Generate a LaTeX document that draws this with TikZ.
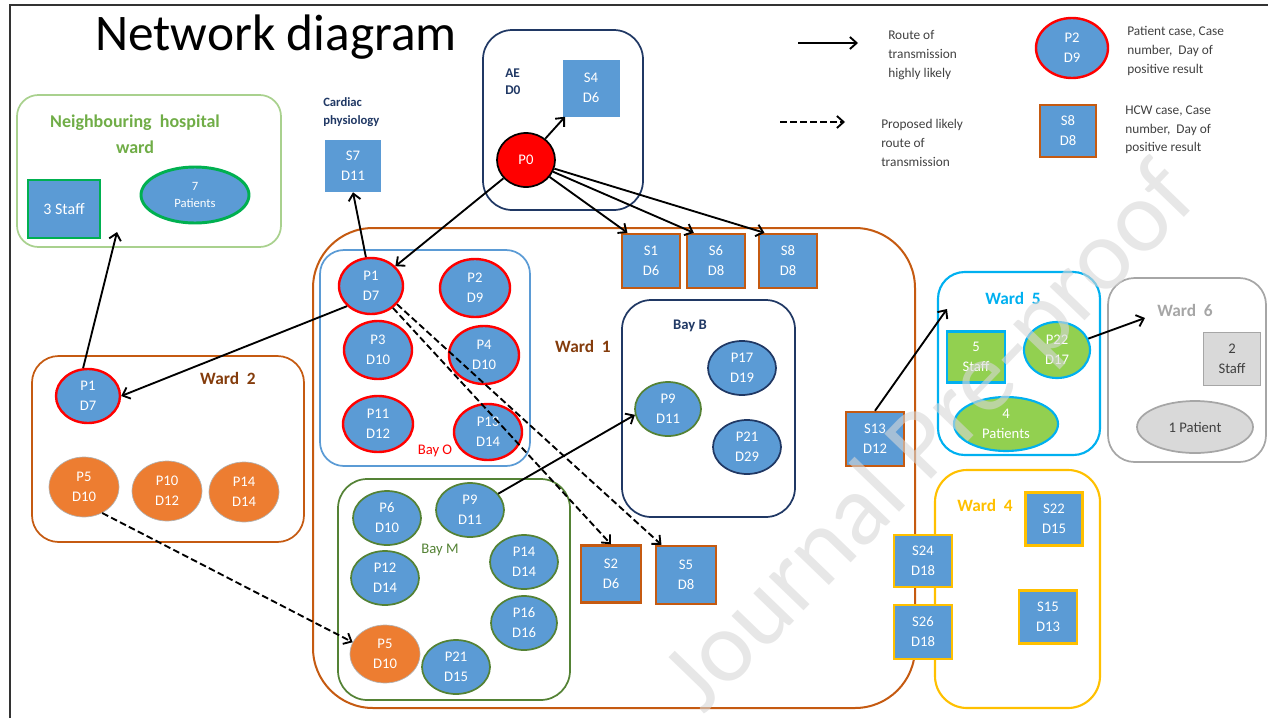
\documentclass[tikz,border=0pt]{standalone}
\usepackage{fontspec}
\setmainfont{Carlito}
\usetikzlibrary{shapes.geometric,arrows.meta}
\definecolor{pblue}{HTML}{5B9BD5}
\definecolor{porange}{HTML}{ED7D31}
\definecolor{sorange}{HTML}{C55A11}
\definecolor{wardbrown}{HTML}{843C0C}
\definecolor{navy}{HTML}{203864}
\definecolor{mgreen}{HTML}{548235}
\definecolor{lgreen}{HTML}{A9D18E}
\definecolor{dgreen}{HTML}{00B050}
\definecolor{nbgreen}{HTML}{70AD47}
\definecolor{lime}{HTML}{92D050}
\definecolor{cyanw}{HTML}{00B0F0}
\definecolor{gold}{HTML}{FFC000}
\definecolor{greyw}{HTML}{A6A6A6}
\definecolor{lgrey}{HTML}{D9D9D9}
\definecolor{legtext}{HTML}{404040}
\definecolor{wmark}{RGB}{215,215,215}
\tikzset{
  esz/.style 2 args={minimum width=#1*0.75pt, minimum height=#2*0.75pt},
  ntext/.style={font=\fontsize{11}{15}\selectfont, text=white, align=center, inner sep=0pt},
  pat/.style={ntext, ellipse, fill=pblue},
  patR/.style={pat, draw=red, line width=1.8pt},
  patG/.style={pat, draw=mgreen, line width=1.3pt},
  patN/.style={pat, draw=navy, line width=1.3pt},
  patO/.style={ntext, ellipse, fill=porange, draw=gray!60, line width=0.5pt},
  sbox/.style={ntext, rectangle, fill=pblue},
  staff/.style={sbox, draw=sorange, line width=1.8pt},
  staffY/.style={sbox, draw=gold, line width=1.8pt},
  legtxt/.style={anchor=west, align=left, text=legtext, font=\fontsize{10}{14}\selectfont, inner sep=0pt},
  wlabel/.style={font=\bfseries\fontsize{13}{15}\selectfont, inner sep=0pt},
  baylabel/.style={font=\fontsize{11}{13}\selectfont, inner sep=0pt},
  arr/.style={-{Straight Barb[length=5pt,width=9pt]}, line width=1.4pt},
  darr/.style={arr, dash pattern=on 5pt off 2.5pt},
}
\begin{document}
\begin{tikzpicture}[x=0.75pt,y=-0.75pt]
\useasboundingbox (0,0) rectangle (1268,718);
% page frame
\draw[line width=1.8pt, black!80] (10,718) -- (10,5) -- (1268,5);

% title
\node[font=\fontsize{38.5}{40}\selectfont, inner sep=0pt] (title) at (276,37) {Network diagram};

% legend
\coordinate (la1) at (798,43); \coordinate (la2) at (858,43);
\draw[arr] (la1) -- (la2);
\node[legtxt] (lt1) at (888,55) {Route of\\transmission\\highly likely};
\coordinate (lb1) at (780,122); \coordinate (lb2) at (845,122);
\draw[darr] (lb1) -- (lb2);
\node[legtxt] (lt2) at (881,143) {Proposed likely\\route of\\transmission};
\node[patR, esz={72}{60}] (lp) at (1072,48) {P2\\D9};
\node[legtxt] (lt3) at (1127,51) {Patient case, Case\\number,\ \ Day of\\positive result};
\node[staff, esz={56}{52}] (ls) at (1068,131) {S8\\D8};
\node[legtxt] (lt4) at (1125,130) {HCW case, Case\\number,\ \ Day of\\positive result};

% neighbouring hospital ward
\draw[lgreen, line width=1.3pt, rounded corners=16pt] (17,95) rectangle (281,247);
\node[font=\bfseries\fontsize{13.5}{19.5}\selectfont, text=nbgreen, align=center, inner sep=0pt] (nbt) at (135,134) {Neighbouring\ \ hospital\\ward};
\node[sbox, draw=dgreen, line width=2.2pt, esz={72}{58}, font=\fontsize{12}{14}\selectfont] (nb3) at (64,209) {3 Staff};
\node[pat, draw=dgreen, line width=2.2pt, esz={108}{56}, font=\fontsize{9.5}{13}\selectfont] (nb7) at (195,195) {7\\Patients};
\coordinate (nbin) at (117,232);

% cardiac physiology
\node[font=\bfseries\fontsize{9.5}{14}\selectfont, text=navy, align=left, anchor=west, inner sep=0pt] (card) at (323,112) {Cardiac\\physiology};
\node[sbox, esz={56}{52}] (S7) at (353,166) {S7\\D11};

% AE
\draw[navy, line width=1.3pt, rounded corners=22pt] (483,30) rectangle (643,210);
\node[font=\bfseries\fontsize{10}{13}\selectfont, text=navy, align=left, anchor=west, inner sep=0pt] (ae) at (505,82) {AE\\D0};
\node[sbox, esz={57}{57}] (S4) at (591,88) {S4\\D6};
\node[ntext, ellipse, fill=red, draw=black, line width=1.3pt, esz={58}{54}] (P0) at (526,160) {P0};

% ward 1
\draw[sorange, line width=1.5pt, rounded corners=45pt] (313,228) rectangle (915,708);
\node[wlabel, text=wardbrown] (w1) at (583,346) {Ward\ \ 1};
\node[staff, esz={58}{54}] (S1) at (651,261) {S1\\D6};
\node[staff, esz={58}{54}] (S6) at (716,261) {S6\\D8};
\node[staff, esz={58}{54}] (S8) at (788,261) {S8\\D8};
\node[staff, esz={58}{54}] (S13) at (875,439) {S13\\D12};

% bay O
\draw[pblue, line width=1.3pt, rounded corners=18pt] (320,250) rectangle (530,466);
\node[baylabel, text=red] (bo) at (435,451) {Bay O};
\node[patR, esz={64}{56}] (P1) at (371,286) {P1\\D7};
\node[patR, esz={70}{58}] (P2) at (475,288) {P2\\D9};
\node[patR, esz={68}{58}] (P3) at (378,350) {P3\\D10};
\node[patR, esz={70}{58}] (P4) at (484,355) {P4\\D10};
\node[patR, esz={70}{56}] (P11) at (378,424) {P11\\D12};
\node[patR, esz={68}{56}] (P13) at (488,432) {P13\\D14};

% bay B
\draw[navy, line width=1.3pt, rounded corners=22pt] (622,300) rectangle (795,517);
\node[baylabel, font=\bfseries\fontsize{11}{13}\selectfont, text=navy] (bb) at (690,326) {Bay B};
\node[patG, esz={66}{54}] (P9b) at (668,409) {P9\\D11};
\node[patN, esz={68}{54}] (P17) at (742,368) {P17\\D19};
\node[patN, esz={68}{54}] (P21b) at (747,447) {P21\\D29};

% bay M
\draw[mgreen, line width=1.3pt, rounded corners=22pt] (338,479) rectangle (570,700);
\node[baylabel, text=mgreen] (bm) at (440,550) {Bay M};
\node[patG, esz={68}{54}] (P6) at (387,518) {P6\\D10};
\node[patG, esz={68}{54}] (P9m) at (470,510) {P9\\D11};
\node[patG, esz={68}{54}] (P12) at (385,578) {P12\\D14};
\node[patG, esz={68}{54}] (P14m) at (524,562) {P14\\D14};
\node[patO, esz={70}{58}] (P5m) at (385,654) {P5\\D10};
\node[patG, esz={68}{54}] (P21m) at (456,667) {P21\\D15};
\node[patG, esz={66}{54}] (P16) at (524,623) {P16\\D16};
\node[staff, esz={60}{57}] (S2) at (611,574) {S2\\D6};
\node[staff, esz={60}{58}] (S5) at (686,575) {S5\\D8};

% ward 2
\draw[sorange, line width=1.3pt, rounded corners=20pt] (32,356) rectangle (304,542);
\node[wlabel, text=wardbrown] (w2) at (228,378) {Ward\ \ 2};
\node[patR, esz={64}{54}] (P1w) at (88,396) {P1\\D7};
\node[patO, esz={70}{60}] (P5w) at (84,487) {P5\\D10};
\node[patO, esz={70}{60}] (P10) at (167,491) {P10\\D12};
\node[patO, esz={70}{60}] (P14w) at (244,492) {P14\\D14};

% ward 5
\draw[cyanw, line width=1.6pt, rounded corners=20pt] (938,272) rectangle (1100,455);
\node[wlabel, text=cyanw] (w5) at (1013,298) {Ward\ \ 5};
\node[sbox, fill=lime, draw=cyanw, line width=1.6pt, esz={58}{51}] (st5) at (976,357) {5\\Staff};
\node[pat, fill=lime, draw=cyanw, line width=1.6pt, esz={66}{56}] (P22) at (1057,350) {P22\\D17};
\node[pat, fill=lime, draw=cyanw, line width=1.6pt, esz={104}{54}] (pt4) at (1006,424) {4\\Patients};
\coordinate (w5in) at (947,309);

% ward 6
\draw[greyw, line width=1.3pt, rounded corners=20pt] (1108,278) rectangle (1266,462);
\node[wlabel, text=greyw] (w6) at (1185,310) {Ward\ \ 6};
\node[sbox, fill=lgrey, draw=greyw, line width=1.3pt, text=black!75, esz={57}{53}] (st2) at (1232,359) {2\\Staff};
\node[ntext, ellipse, fill=lgrey, draw=greyw, line width=1.3pt, text=black!75, esz={116}{52}] (pt1) at (1195,427) {1 Patient};
\coordinate (w6in) at (1145,318);

% ward 4
\draw[gold, line width=1.6pt, rounded corners=24pt] (935,470) rectangle (1100,708);
\node[wlabel, text=gold] (w4) at (985,505) {Ward\ \ 4};
\node[staffY, esz={57}{53}] (S22) at (1054,519) {S22\\D15};
\node[staffY, esz={58}{53}] (S15) at (1048,617) {S15\\D13};
\node[staffY, esz={58}{52}] (S24) at (923,561) {S24\\D18};
\node[staffY, esz={58}{54}] (S26) at (923,632) {S26\\D18};

% routes of transmission
\draw[arr] (P0) -- (S4);
\draw[arr] (P0) -- (P1);
\draw[arr] (P0) -- ([xshift=5pt]S1.north west);
\draw[arr] (P0) -- ([xshift=6pt]S6.north west);
\draw[arr] (P0) -- ([xshift=5pt]S8.north west);
\draw[arr] (P1.100) -- (S7.south);
\draw[arr] (P1.220) -- (P1w.east);
\draw[arr] (P1w.100) -- (nbin);
\draw[arr] (P9m) -- (P9b.190);
\draw[arr] (S13.north) -- (w5in);
\draw[arr] (P22) -- (w6in);
\draw[darr] (P1.-45) -- (S2.north);
\draw[darr] (P1.-35) -- ([xshift=5pt]S5.north west);
\draw[darr] (P5w.-55) -- (P5m.160);

% watermark
\node[text=wmark, opacity=0.6, rotate=46, font=\fontsize{76}{80}\selectfont, inner sep=0pt] (wm) at (932,440) {Journal Pre-proof};
\end{tikzpicture}
\end{document}
